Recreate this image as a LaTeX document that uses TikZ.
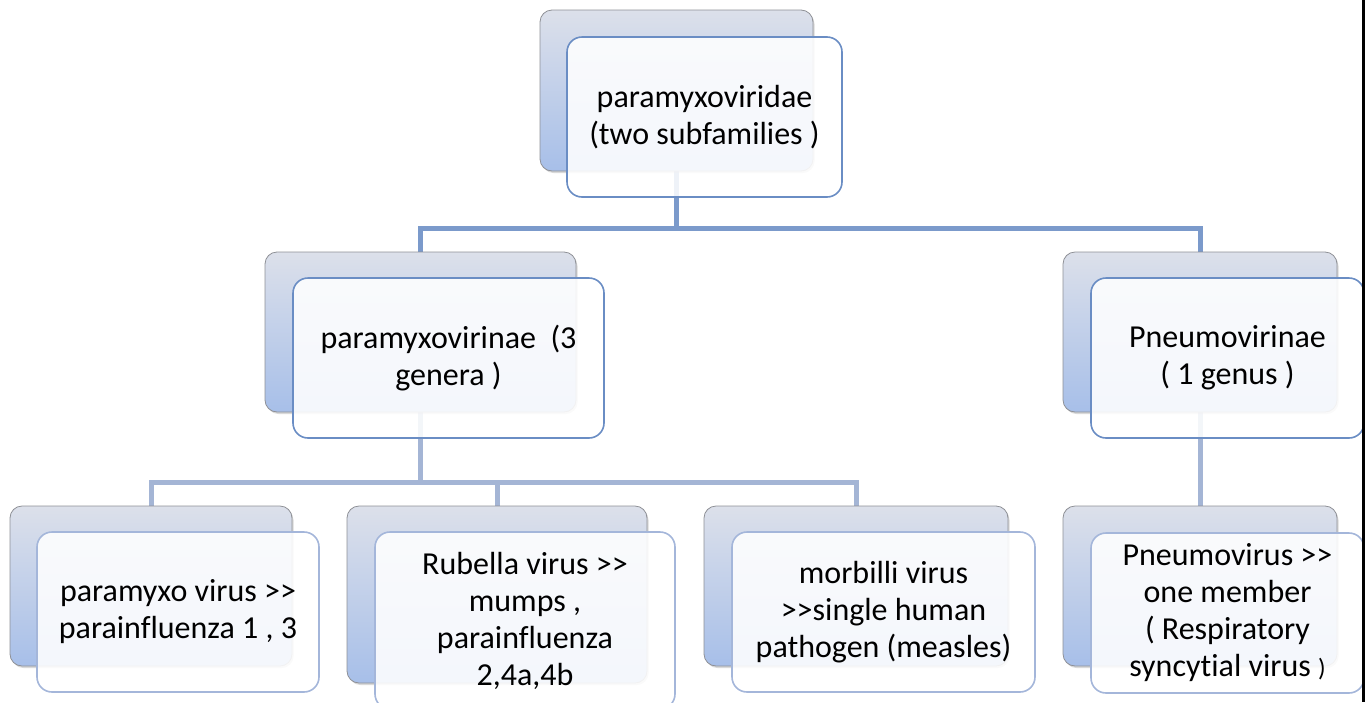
\documentclass[tikz,border=0pt]{standalone}
\usepackage{fontspec}
\setmainfont{Carlito}[Ligatures={NoCommon}]
\usetikzlibrary{shadows}
\pgfdeclarelayer{bg}
\pgfsetlayers{bg,main}
\definecolor{backtop}{HTML}{DCE0EA}
\definecolor{backbot}{HTML}{A7BFE9}
\definecolor{boxgray}{HTML}{8E9096}
\definecolor{frontdark}{HTML}{6A8DC4}
\definecolor{frontlight}{HTML}{A4B6DA}
\definecolor{connA}{HTML}{7B9ACB}
\definecolor{connB}{HTML}{A4B5D5}
\begin{document}
\begin{tikzpicture}[x=1pt,y=-1pt,
  backbox/.style={draw=boxgray, line width=0.8pt, rounded corners=12pt,
    top color=backtop, bottom color=backbot, inner sep=0pt,
    drop shadow={opacity=0.3, shadow xshift=1.5pt, shadow yshift=-2pt}},
  frontbox/.style={draw=#1, line width=1.6pt, rounded corners=15pt,
    fill=white, fill opacity=0.88, text opacity=1, inner sep=0pt,
    align=center, font=\fontsize{32}{37}\selectfont},
  connhi/.style={draw=connA, line width=5pt},
  connlo/.style={draw=connB, line width=5pt}]
\useasboundingbox (0,0) rectangle (1366,702);
% back boxes
\node[backbox, minimum width=273pt, minimum height=161pt] (b0) at (676.5,90.5) {};
\node[backbox, minimum width=311pt, minimum height=160pt] (b1) at (420.5,332) {};
\node[backbox, minimum width=274pt, minimum height=160pt] (b2) at (1200,332) {};
\node[backbox, minimum width=282pt, minimum height=160pt] (c1) at (151,586) {};
\node[backbox, minimum width=300pt, minimum height=177pt] (c2) at (497,594.5) {};
\node[backbox, minimum width=304pt, minimum height=160pt] (c3) at (856,586) {};
\node[backbox, minimum width=274pt, minimum height=160pt] (c4) at (1200,586) {};
% front boxes
\node[frontbox=frontdark, minimum width=275pt, minimum height=160pt] (f0) at (704.5,117)
  {paramyxoviridae\\(two subfamilies )};
\node[frontbox=frontdark, minimum width=311pt, minimum height=160pt] (f1) at (448.5,358)
  {paramyxovirinae\ \ (3\\genera )};
\node[frontbox=frontdark, minimum width=273pt, minimum height=160pt] (f2) at (1227.5,358)
  {Pneumovirinae\\( 1 genus )};
\node[frontbox=frontlight, minimum width=282pt, minimum height=160pt] (g1) at (178,612)
  {paramyxo virus >{}>\\parainfluenza 1 , 3};
\node[frontbox=frontlight, minimum width=300pt, minimum height=177pt] (g2) at (525,620.5)
  {Rubella virus >{}>\\mumps ,\\parainfluenza\\2,4a,4b};
\node[frontbox=frontlight, minimum width=303pt, minimum height=160pt] (g3) at (883.5,612)
  {morbilli virus\\>{}>single human\\pathogen (measles)};
\node[frontbox=frontlight, minimum width=273pt, minimum height=160pt] (g4) at (1227.5,613)
  {Pneumovirus >{}>\\one member\\( Respiratory\\syncytial virus {\fontsize{25}{37}\selectfont )}};
% connectors
\coordinate (j0) at (676.5,228);
\coordinate (j1) at (420.5,482);
\begin{pgfonlayer}{bg}
\draw[connhi] (b0.south) -- (j0);
\draw[connhi] (j0) -| (b1.north);
\draw[connhi] (j0) -| (b2.north);
\draw[connlo] (b1.south) -- (j1);
\draw[connlo] (j1) -| (c1.north);
\draw[connlo] (j1) -| (c2.north);
\draw[connlo] (j1) -| (c3.north);
\draw[connlo] (b2.south) -- (c4.north);
\end{pgfonlayer}
% right edge rule
\draw[black, line width=3pt] (1363.5,0) -- (1363.5,702);
\end{tikzpicture}
\end{document}
